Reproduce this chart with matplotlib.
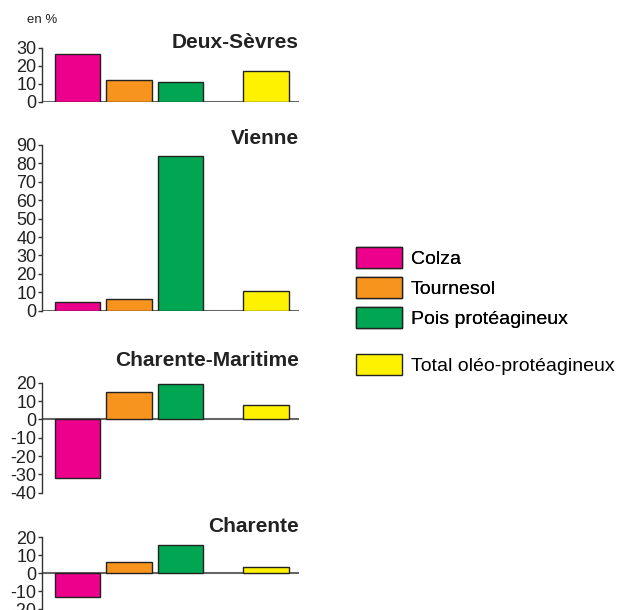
import matplotlib
matplotlib.use("Agg")
import matplotlib.pyplot as plt
from matplotlib.patches import Patch

plt.rcParams['font.family'] = ['Liberation Sans', 'DejaVu Sans']
plt.rcParams['axes.unicode_minus'] = False

cultures = ['Colza', 'Tournesol', 'Pois protéagineux', 'Total oléo-protéagineux']
couleurs = ['#EC008C', '#F7941D', '#00A651', '#FFF200']

departements = ['Deux-Sèvres', 'Vienne', 'Charente-Maritime', 'Charente']
deux_sevres = [26.5, 12.2, 11.0, 17.3]
vienne = [4.6, 6.4, 84.2, 10.5]
charente_maritime = [-32.0, 14.7, 19.4, 7.7]
charente = [-13.1, 6.1, 15.4, 3.1]
valeurs = [deux_sevres, vienne, charente_maritime, charente]

ylims = [(0, 30), (0, 90), (-40, 20), (-20, 20)]

W, H = 619, 610
fig = plt.figure(figsize=(W / 100, H / 100), dpi=100)

# panel geometry in pixels: (top, bottom) of the y range
boites = [(48, 102), (145, 310.7), (382.7, 492.7), (537, 609)]
titre_y = [42, 138, 361, 526]
x_gauche, x_droite = 42, 299
pos = [0, 1, 2, 3.66]

for i, dep in enumerate(departements):
    top, bot = boites[i]
    ax = fig.add_axes([x_gauche / W, 1 - bot / H, (x_droite - x_gauche) / W, (bot - top) / H])
    ax.bar(pos, valeurs[i], width=0.89, color=couleurs, edgecolor='#222222', linewidth=1, zorder=3)
    ax.axhline(0, color='#666666', linewidth=1.5, zorder=2)
    lo, hi = ylims[i]
    ax.set_ylim(lo, hi)
    ax.set_xlim(-0.69, 4.30)
    ax.set_yticks(range(lo, hi + 1, 10))
    for s in ['top', 'right', 'bottom']:
        ax.spines[s].set_visible(False)
    ax.spines['left'].set_color('#333333')
    ax.spines['left'].set_linewidth(1)
    ax.set_xticks([])
    ax.tick_params(axis='y', length=3, width=1, pad=1, labelsize=13, colors='#333333', labelcolor='#222222')
    ax.patch.set_alpha(0)
    fig.text(x_droite / W, 1 - titre_y[i] / H, dep, ha='right', va='center',
             fontsize=15, fontweight='bold', color='#222222')

fig.text(27 / W, 1 - 20 / H, 'en %', ha='left', va='center', fontsize=9.5, color='#222222')

handles = [Patch(facecolor=c, edgecolor='#222222', linewidth=1) for c in couleurs]
leg1 = fig.legend(handles[:3], cultures[:3], loc='upper left', bbox_to_anchor=(356 / W, 1 - 247 / H),
                  frameon=False, fontsize=14, handlelength=2.37, handleheight=1.3,
                  labelspacing=0.45, handletextpad=0.46, borderpad=0, borderaxespad=0)
fig.add_artist(leg1)
fig.legend(handles[3:], cultures[3:], loc='upper left', bbox_to_anchor=(356 / W, 1 - 354 / H),
           frameon=False, fontsize=14, handlelength=2.37, handleheight=1.3,
           handletextpad=0.46, borderpad=0, borderaxespad=0)

fig.savefig('out.png', dpi=100)
